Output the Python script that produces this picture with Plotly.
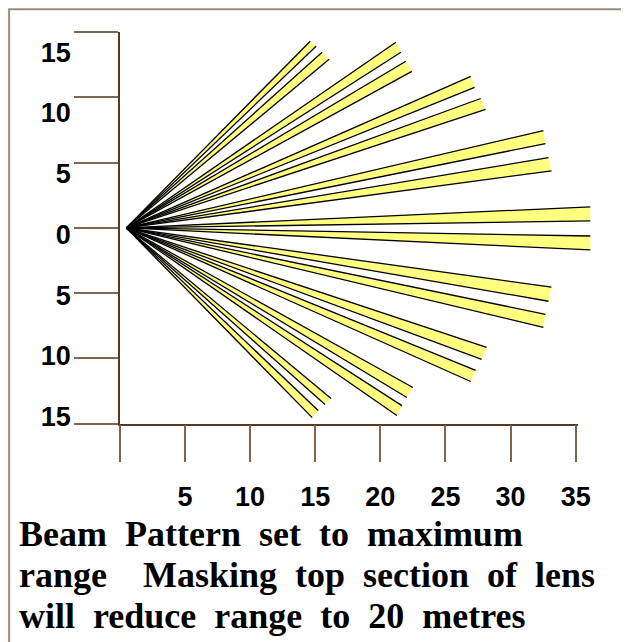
import plotly.graph_objects as go

# ---------------- data ----------------
# apex of the beam pattern (detector position)
origin_x = 0.5
origin_y = 0.0

# each beam is a thin wedge from the apex to two far corners
beam_corner1_x = [14.62, 15.53, 21.20, 21.96, 26.94, 27.70, 32.52, 32.91, 36.12,
                  36.12, 33.14, 32.68, 28.16, 27.32, 22.50, 21.66, 16.22, 15.23]
beam_corner1_y = [14.31, 13.46, 14.23, 12.77, 11.62, 9.92, 7.46, 5.38, 1.62,
                  -0.62, -4.54, -6.62, -9.15, -10.92, -12.23, -13.62, -13.08, -14.00]
beam_corner2_x = [15.07, 16.07, 21.58, 22.42, 27.24, 28.08, 32.68, 33.14, 36.12,
                  36.12, 32.91, 32.52, 27.78, 26.94, 22.04, 21.27, 15.76, 14.77]
beam_corner2_y = [13.92, 12.92, 13.46, 12.00, 10.77, 9.08, 6.46, 4.38, 0.54,
                  -1.69, -5.62, -7.62, -10.08, -11.77, -13.00, -14.38, -13.54, -14.54]

x_tick_values = [0, 5, 10, 15, 20, 25, 30, 35]
x_tick_labels = ["", "5", "10", "15", "20", "25", "30", "35"]
y_tick_values = [15, 10, 5, 0, -5, -10, -15]
y_tick_labels = ["15", "10", "5", "0", "5", "10", "15"]

caption_lines = [
    "Beam Pattern set to maximum",
    "range  Masking top section of lens",
    "will reduce range to 20 metres",
]

# ---------------- styling ----------------
W, H = 629, 642
OFF = 8      # page body margin
S = 0.984    # observed screenshot scale of the page
YELLOW = "#ffff80"
AXIS_LINE = "#5a3a1e"
TICK_COL = "#7d6650"
LABEL_FONT = dict(family="Liberation Sans, Arial, sans-serif", size=27, color="black", weight="bold")
CAPTION_FONT = dict(family="Liberation Serif, Times New Roman, serif", size=36, color="black", weight="bold")


def fx(q):
    """window pixel (x) -> paper fraction"""
    return (q / S - OFF) / W


def fy(q):
    """window pixel (y) -> paper fraction"""
    return 1 - (q / S - OFF) / H


def L(q):
    """window pixel length -> page pixel length"""
    return q / S


# build wedge polygons and edge lines from the data
fill_x, fill_y, edge_x, edge_y = [], [], [], []
for x1, y1, x2, y2 in zip(beam_corner1_x, beam_corner1_y, beam_corner2_x, beam_corner2_y):
    fill_x += [origin_x, x1, x2, origin_x, None]
    fill_y += [origin_y, y1, y2, origin_y, None]
    edge_x += [origin_x, x1, None, origin_x, x2, None]
    edge_y += [origin_y, y1, None, origin_y, y2, None]

fig = go.Figure()
fig.add_trace(go.Scatter(x=fill_x, y=fill_y, mode="lines", fill="toself",
                         fillcolor=YELLOW, line=dict(width=0, color=YELLOW),
                         hoverinfo="skip", showlegend=False))
fig.add_trace(go.Scatter(x=edge_x, y=edge_y, mode="lines",
                         line=dict(width=1.3, color="black"),
                         hoverinfo="skip", showlegend=False))
# frame axes (ticks / line) and label axis
fig.add_trace(go.Scatter(x=[None], y=[None], xaxis="x2", yaxis="y2",
                         hoverinfo="skip", showlegend=False))
fig.add_trace(go.Scatter(x=[None], y=[None], xaxis="x2", yaxis="y3",
                         hoverinfo="skip", showlegend=False))

px_per_unit = (580 - 120) / 35.2
y_domain = [fy(422), fy(32)]

# label axis scale (labels are spaced slightly tighter than the tick marks)
lab_top, lab_bot = 52, 415
lab_scale = (lab_bot - lab_top) / 30.0
lab_zero = (lab_top + lab_bot) / 2
y3_range = [(lab_zero - 422) / lab_scale, (lab_zero - 32) / lab_scale]

fig.update_layout(
    width=W, height=H,
    margin=dict(l=0, r=0, t=0, b=0),
    paper_bgcolor="white", plot_bgcolor="rgba(0,0,0,0)",
    showlegend=False,
    xaxis=dict(domain=[fx(120), fx(614)], range=[0, (614 - 120) / px_per_unit],
               visible=False, fixedrange=True),
    yaxis=dict(domain=y_domain, range=[-15, 15], visible=False, fixedrange=True),
    xaxis2=dict(domain=[fx(120), fx(580)], range=[0, 35.2], anchor="y2",
                showline=True, linecolor=AXIS_LINE, linewidth=1.5,
                ticks="outside", ticklen=L(36), tickwidth=1.5, tickcolor=TICK_COL,
                tickmode="array", tickvals=x_tick_values, ticktext=x_tick_labels,
                tickfont=LABEL_FONT, ticklabelstandoff=round(L(12)),
                showgrid=False, zeroline=False, fixedrange=True),
    yaxis2=dict(domain=y_domain, range=[-15, 15], anchor="x2",
                showline=True, linecolor=AXIS_LINE, linewidth=1.5,
                ticks="outside", ticklen=L(43), tickwidth=1.5, tickcolor=TICK_COL,
                tickmode="array", tickvals=y_tick_values, showticklabels=False,
                showgrid=False, zeroline=False, fixedrange=True),
    yaxis3=dict(overlaying="y2", anchor="x2", side="left", range=y3_range,
                tickmode="array", tickvals=y_tick_values, ticktext=y_tick_labels,
                tickfont=LABEL_FONT, ticks="", showline=False, ticklabelstandoff=round(L(47)),
                showgrid=False, zeroline=False, fixedrange=True),
    shapes=[dict(type="rect", xref="paper", yref="paper",
                 x0=fx(9), x1=1.2, y0=-0.2, y1=fy(9),
                 line=dict(color="#9c8c7c", width=2), layer="below")],
)

caption_centres = [532, 573, 614]
for line, c in zip(caption_lines, caption_centres):
    fig.add_annotation(text=line.replace(" ", "\u00a0\u00a0"), xref="paper", yref="paper",
                       x=fx(17), y=fy(c), xanchor="left", yanchor="middle",
                       showarrow=False, font=CAPTION_FONT, align="left")

fig.write_html("out.html")
